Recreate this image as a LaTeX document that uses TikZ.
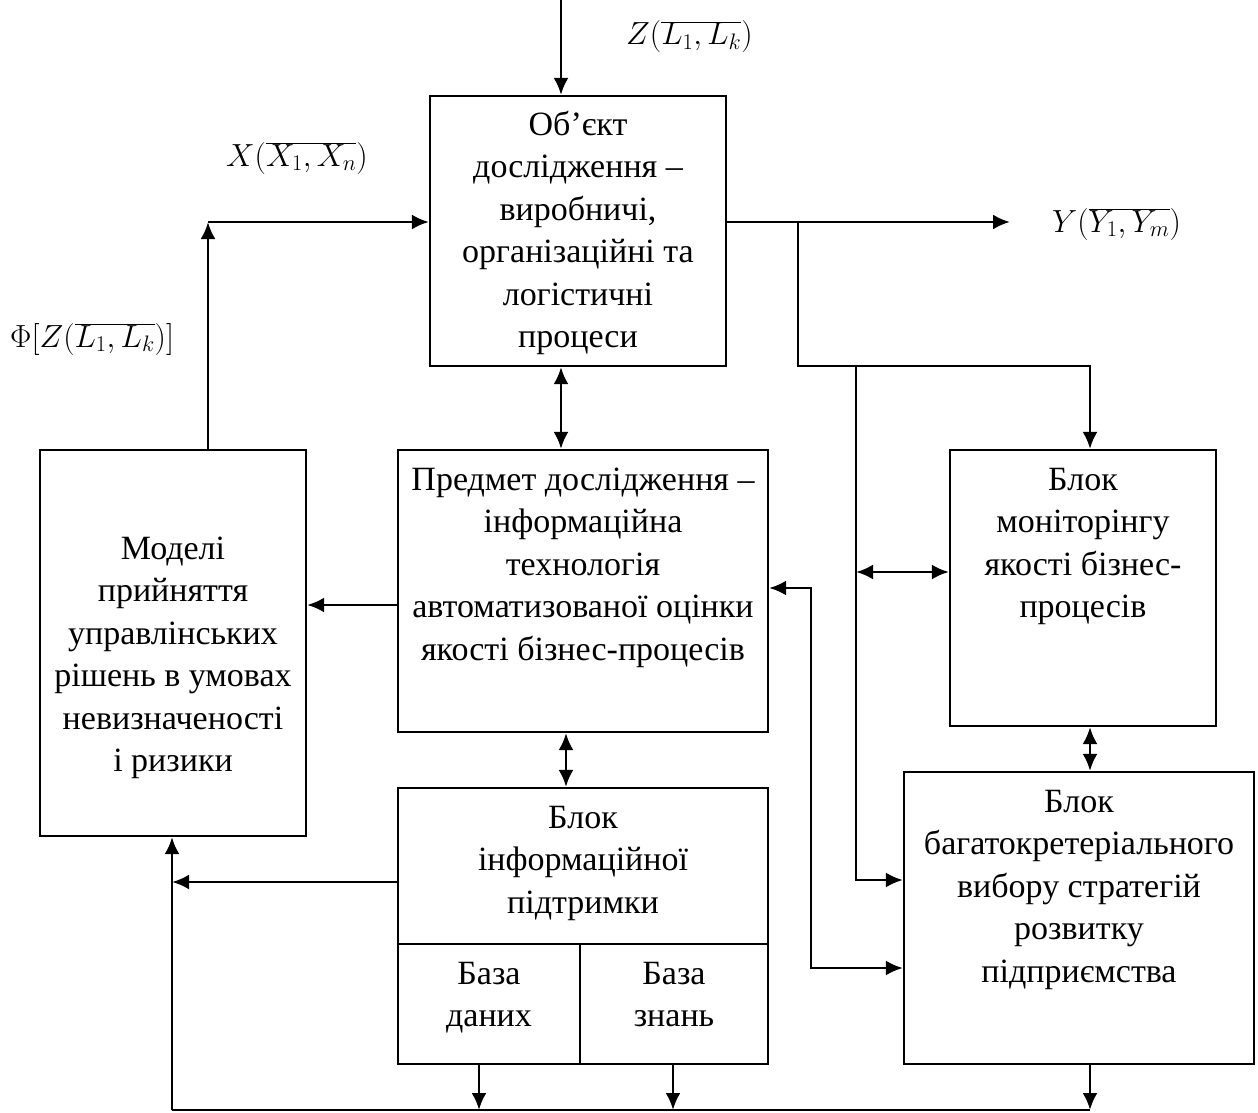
\RequirePackage{fix-cm}
\documentclass[tikz,border=0pt]{standalone}
\usepackage{fontspec}
\setmainfont{Liberation Serif}
\usetikzlibrary{arrows.meta}
\newcommand{\fstrut}{\rule{0pt}{31pt}}
\begin{document}
\begin{tikzpicture}[x=1pt,y=-1pt,
  box/.style={draw, line width=2.2pt, inner sep=0pt},
  txt/.style={align=center, inner sep=0pt, anchor=north, font=\fontsize{34}{42.5}\selectfont},
  lbl/.style={inner sep=0pt, anchor=base west, font=\fontsize{32}{42.5}\selectfont},
  wire/.style={line width=2.8pt},
  conn/.style={wire, -{Latex[length=17pt,width=15pt]}},
  conn2/.style={wire, {Latex[length=17pt,width=15pt]}-{Latex[length=17pt,width=15pt]}},
]
\useasboundingbox (0,0) rectangle (1258,1113);

% boxes
\node[box, minimum width=296pt, minimum height=270pt] (obj) at (578,231) {};
\node[box, minimum width=370pt, minimum height=282pt] (pred) at (583,591) {};
\node[box, minimum width=266pt, minimum height=386pt] (models) at (173,643) {};
\node[box, minimum width=370pt, minimum height=276pt] (info) at (583,926) {};
\node[box, minimum width=182pt, minimum height=120pt] (db) at (489,1004) {};
\node[box, minimum width=188pt, minimum height=120pt] (kb) at (674,1004) {};
\node[box, minimum width=266pt, minimum height=276pt] (mon) at (1083,588) {};
\node[box, minimum width=350pt, minimum height=292pt] (strat) at (1079,918) {};

% texts
\node[txt] (objt) at (578,104) {\fstrut Об’єкт\\дослідження –\\виробничі,\\організаційні та\\логістичні\\процеси};
\node[txt] (predt) at (583,459) {\fstrut Предмет дослідження –\\інформаційна\\технологія\\автоматизованої оцінки\\якості бізнес-процесів};
\node[txt] (modelst) at (173,528) {\fstrut Моделі\\прийняття\\управлінських\\рішень в умовах\\невизначеності\\і ризики};
\node[txt] (mont) at (1083,459) {\fstrut Блок\\моніторінгу\\якості бізнес-\\процесів};
\node[txt] (stratt) at (1079,781) {\fstrut Блок\\багатокретеріального\\вибору стратегій\\розвитку\\підприємства};
\node[txt] (infot) at (583,797) {\fstrut Блок\\інформаційної\\підтримки};
\node[txt] (dbt) at (489,953) {\fstrut База\\даних};
\node[txt] (kbt) at (674,953) {\fstrut База\\знань};

% labels
\node[lbl] (zl) at (626,45) {$Z(\overline{L_1, L_k})$};
\node[lbl] (xl) at (226,166) {$X(\overline{X_1, X_n})$};
\node[lbl] (yl) at (1052,232) {$Y(\overline{Y_1, Y_m})$};
\node[lbl] (fl) at (10,347) {$\Phi[Z(\overline{L_1, L_k})]$};

% coordinates
\coordinate (ztop) at (561,0);
\coordinate (xc) at (208,222);
\coordinate (yend) at (1010,222);
\coordinate (b1) at (798,222);
\coordinate (b2) at (798,366);
\coordinate (b3) at (1090,366);
\coordinate (v1) at (856,366);
\coordinate (v2) at (856,880);
\coordinate (v3) at (856,572);
\coordinate (w1) at (811,588);
\coordinate (w2) at (811,968);
\coordinate (p1) at (566,0);
\coordinate (m1) at (0,605);
\coordinate (i1) at (172,882);
\coordinate (bl) at (172,1110);
\coordinate (bdb) at (479,1110);
\coordinate (bkb) at (673,1110);
\coordinate (bst) at (1090,1110);

% connectors
\draw[conn] (ztop) -- (ztop |- obj.north);
\draw[conn] (models.north -| xc) -- (xc);
\draw[conn] (xc) -- (xc -| obj.west);
\draw[conn] (obj.east |- yend) -- (yend);
\draw[conn] (b1) -- (b2) -- (b3) -- (b3 |- mon.north);
\draw[conn] (v1) -- (v2) -- (v2 -| strat.west);
\draw[conn2] (v3) -- (v3 -| mon.west);
\draw[conn2] (obj.south -| ztop) -- (pred.north -| ztop);
\draw[conn] (pred.west |- m1) -- (models.east |- m1);
\draw[conn2] (pred.east |- w1) -- (w1) -- (w2) -- (w2 -| strat.west);
\draw[conn2] (pred.south -| p1) -- (info.north -| p1);
\draw[conn2] (mon.south -| b3) -- (strat.north -| b3);
\draw[conn] (info.west |- i1) -- (i1);
\draw[conn] (db.south -| bdb) -- (bdb);
\draw[conn] (kb.south -| bkb) -- (bkb);
\draw[conn] (strat.south -| bst) -- (bst);
\draw[wire] (bst) -- (bl);
\draw[conn] (bl) -- (models.south -| bl);
\end{tikzpicture}
\end{document}
